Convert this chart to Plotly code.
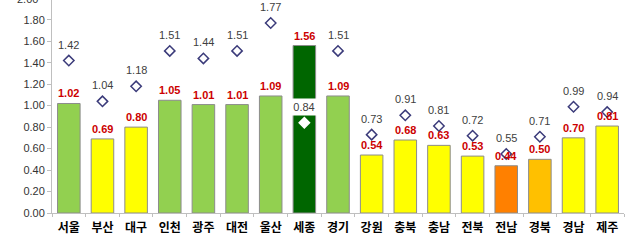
import plotly.graph_objects as go

regions = ["서울", "부산", "대구", "인천", "광주", "대전", "울산", "세종", "경기",
           "강원", "충북", "충남", "전북", "전남", "경북", "경남", "제주"]
bar_values = [1.02, 0.69, 0.80, 1.05, 1.01, 1.01, 1.09, 1.56, 1.09,
              0.54, 0.68, 0.63, 0.53, 0.44, 0.50, 0.70, 0.81]
diamond_values = [1.42, 1.04, 1.18, 1.51, 1.44, 1.51, 1.77, 0.84, 1.51,
                  0.73, 0.91, 0.81, 0.72, 0.55, 0.71, 0.99, 0.94]
bar_colors = ["#92D050", "#FFFF00", "#FFFF00", "#92D050", "#92D050", "#92D050",
              "#92D050", "#006600", "#92D050", "#FFFF00", "#FFFF00", "#FFFF00",
              "#FFFF00", "#FF8000", "#FFC000", "#FFFF00", "#FFFF00"]
y_ticks = [0.0, 0.2, 0.4, 0.6, 0.8, 1.0, 1.2, 1.4, 1.6, 1.8]

NUM_FONT = "Liberation Sans, Arial, sans-serif"
KR_FONT = "Noto Sans CJK KR, sans-serif"

fig = go.Figure()
fig.add_trace(go.Bar(
    x=regions, y=bar_values,
    marker=dict(color=bar_colors, line=dict(color="#8C8C8C", width=1)),
    width=0.67, hoverinfo="skip",
))
line_cols = ["white" if r == "세종" else "#3B3B7A" for r in regions]
fig.add_trace(go.Scatter(
    x=regions, y=diamond_values, mode="markers",
    marker=dict(symbol="diamond", size=8, color="white",
                line=dict(color=line_cols, width=1.5)),
    hoverinfo="skip", cliponaxis=False,
))

annotations = []
for r, v in zip(regions, bar_values):
    annotations.append(dict(
        x=r, y=v, xref="x", yref="y", text=f"<b>{v:.2f}</b>", showarrow=False,
        yanchor="middle", yshift=10,
        font=dict(family=NUM_FONT, size=11, color="#CC0000"),
    ))
for r, v in zip(regions, diamond_values):
    extra = {}
    if r == "세종":
        extra = dict(bgcolor="white", width=26, height=16, borderpad=0)
    annotations.append(dict(
        x=r, y=v, xref="x", yref="y", text=f"{v:.2f}", showarrow=False,
        yanchor="middle", yshift=16,
        font=dict(family=NUM_FONT, size=11, color="#404040"), **extra,
    ))
annotations.append(dict(
    x=0, y=2.0 / 1.984, xref="paper", yref="paper", text="2.00", showarrow=False,
    xanchor="right", yanchor="middle", xshift=-12, yshift=-1,
    font=dict(family=NUM_FONT, size=11, color="#333333"),
))

fig.update_layout(
    width=635, height=241,
    margin=dict(l=52, r=11, t=0, b=28),
    paper_bgcolor="white", plot_bgcolor="white",
    showlegend=False,
    bargap=0.33,
    annotations=annotations,
    xaxis=dict(
        type="category", showgrid=False, showline=True, linecolor="#BFBFBF",
        linewidth=1, ticks="outside", tickson="boundaries", ticklen=3,
        tickcolor="#BFBFBF", ticklabelstandoff=4,
        tickfont=dict(family=KR_FONT, size=12, color="#000000", weight="bold"),
        range=[-0.5, 16.5],
    ),
    yaxis=dict(
        range=[0, 1.984], tickvals=y_ticks,
        ticktext=[f"{t:.2f}" for t in y_ticks],
        showgrid=False, zeroline=False, showline=True, linecolor="#BFBFBF",
        linewidth=1, ticks="outside", ticklen=4, tickcolor="#BFBFBF",
        tickfont=dict(family=NUM_FONT, size=11, color="#333333"),
    ),
)

fig.write_html("out.html")
